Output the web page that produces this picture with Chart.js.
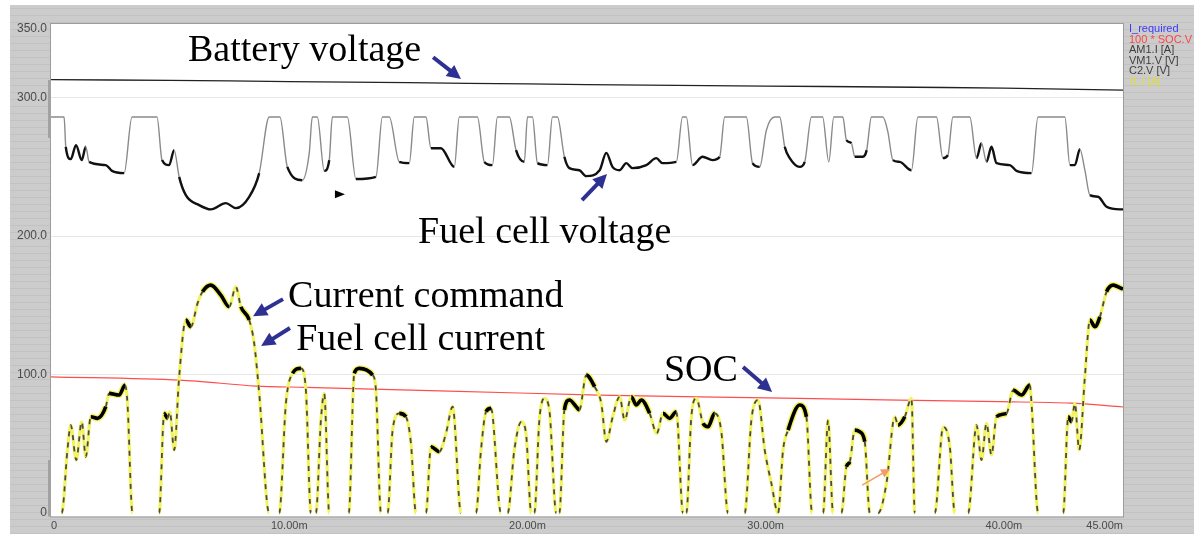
<!DOCTYPE html>
<html>
<head>
<meta charset="utf-8">
<script src="https://cdn.jsdelivr.net/npm/chart.js@4"></script>
<style>
  html, body { margin: 0; padding: 0; background: #fff; }
  #wrap { width: 1194px; height: 534px; }
</style>
</head>
<body>
<div id="wrap"><canvas id="chart" width="1194" height="534"></canvas></div>
<script>
// оси
const timeTicks = [0, 10, 20, 30, 40, 45];
const valueTicks = [0, 100, 200, 300, 350];

// напряжение батареи (C2.V)
const battT = [0, 5, 10, 15, 20, 25, 30, 35, 40, 45];
const battV = [313, 312.5, 311.6, 310.8, 309.9, 309.0, 308.4, 307.7, 306.9, 305.4];

// напряжение топливного элемента (VM1.V)
const fcvT = [0, 0.55, 0.62, 0.83, 1.05, 1.29, 1.46, 1.60, 2.30, 2.56, 3.07, 3.40, 4.45, 4.66, 4.96, 5.17, 5.38, 5.66, 6.22, 6.71,
  7.34, 7.76, 8.32, 8.74, 9.16, 9.61, 9.92, 10.55, 10.84, 10.97, 11.18, 11.47, 11.68, 11.81, 12.44, 12.80, 13.64, 13.91, 14.20, 14.62,
  15.04, 15.25, 15.74, 15.95, 16.37, 16.93, 17.14, 17.90, 18.19, 18.53, 18.74, 19.24, 19.52, 19.87, 20.00, 20.21, 20.42, 20.84, 21.05, 21.26,
  21.55, 21.76, 22.18, 22.47, 23.03, 23.31, 23.57, 23.87, 24.15, 24.41, 24.99, 25.41, 25.67, 26.25, 26.51, 26.67, 26.93, 27.35, 27.77, 28.07,
  28.28, 29.19, 29.45, 29.75, 30.03, 30.38, 30.59, 30.80, 31.01, 31.43, 31.64, 31.92, 32.39, 32.65, 32.86, 33.24, 33.39, 33.60, 33.74, 34.08,
  34.24, 34.44, 34.92, 35.13, 35.34, 35.63, 36.12, 36.39, 37.17, 37.44, 37.65, 37.86, 38.57, 38.85, 39.06, 39.27, 39.48, 39.69, 40.25, 40.53,
  41.16, 41.43, 42.56, 42.77, 42.98, 43.19, 43.40, 43.61, 43.95, 44.31, 44.87, 45];
const fcvV = [286, 286, 264.5, 255.6, 265.7, 254.9, 264.5, 253.6, 251.3, 247.1, 245.5, 286, 286, 254.9, 251.3, 262.1, 242.8, 229.6, 222.4, 219.3,
  223.8, 220.2, 228.4, 245.5, 286, 286, 250.0, 240.4, 259.9, 286, 286, 247.1, 254.9, 286, 286, 241.2, 242.8, 286, 286, 253.6,
  252.7, 286, 286, 263.5, 263.5, 250.0, 286, 286, 253.6, 251.3, 286, 286, 262.1, 253.6, 286, 286, 252.7, 251.3, 286, 286,
  257.3, 249.1, 247.6, 243.3, 247.6, 260.1, 250.0, 247.6, 252.7, 249.1, 251.3, 256.3, 252.7, 253.6, 286, 286, 251.3, 257.3, 254.9, 257.3,
  286, 286, 252.7, 250.0, 276.5, 286, 286, 264.5, 256.3, 250.0, 253.6, 286, 286, 253.6, 286, 286, 269.3, 267.1, 257.3, 257.3,
  262.1, 286, 286, 275.3, 254.9, 253.6, 247.6, 286, 286, 256.3, 258.5, 286, 286, 256.3, 267.1, 253.6, 264.5, 252.7, 251.3, 247.1,
  245.5, 286, 286, 251.3, 251.3, 262.8, 247.6, 229.6, 228.4, 221.2, 219.3, 219.3];

// 100 * SOC
const socT = [0, 5.4, 8.6, 10.7, 16.3, 23.0, 31.4, 39.8, 42.8, 45];
const socV = [98.4, 96.0, 91.7, 90.8, 88.3, 85.2, 82.8, 80.4, 79.4, 76.6];

// ток: команда (I1.I) и ток топливного элемента (AM1.I) почти совпадают
const curT = [0, 0.45, 0.69, 0.83, 1.06, 1.29, 1.46, 1.67, 1.95, 2.30, 2.44, 2.86, 3.11, 3.21, 3.42, 4.54, 4.75, 4.89, 4.99, 5.17,
  5.38, 5.66, 5.87, 6.15, 6.36, 6.71, 7.13, 7.48, 7.76, 7.97, 8.32, 8.53, 8.74, 9.16, 9.58, 9.86, 10.14, 10.49, 10.70, 10.91,
  11.12, 11.33, 11.47, 11.68, 12.50, 12.73, 12.94, 13.50, 13.64, 13.85, 14.13, 14.34, 14.62, 14.90, 15.11, 15.32, 15.74, 15.95, 16.30, 16.58,
  16.86, 17.21, 17.84, 18.05, 18.26, 18.47, 18.89, 19.17, 19.45, 19.74, 19.94, 20.16, 20.29, 20.50, 20.71, 20.92, 21.21, 21.34, 21.55, 21.76,
  22.05, 22.18, 22.47, 22.82, 23.10, 23.31, 23.58, 23.87, 24.08, 24.36, 24.57, 24.78, 25.13, 25.43, 25.69, 25.97, 26.25, 26.53, 26.67, 26.88,
  27.09, 27.37, 27.58, 27.86, 28.14, 28.42, 29.12, 29.40, 29.68, 29.96, 30.24, 30.52, 30.73, 30.94, 31.43, 31.71, 31.95, 32.41, 32.62, 32.83,
  33.18, 33.39, 33.53, 33.74, 33.95, 34.16, 34.37, 34.72, 35.07, 35.42, 35.56, 35.84, 36.12, 36.26, 37.10, 37.45, 37.73, 37.94, 38.50, 38.85,
  39.06, 39.27, 39.48, 39.69, 40.11, 40.39, 40.74, 41.09, 41.16, 41.44, 42.49, 42.70, 42.84, 42.98, 43.16, 43.40, 43.61, 43.82, 44.03, 44.31,
  44.59, 44.94, 45];
const curA = [0, 0, 45.5, 63.5, 38.3, 65.9, 40.6, 69.5, 68.4, 76.8, 86.4, 85.2, 92.4, 79.2, 0, 0, 72.0, 68.4, 73.1, 45.5,
  98.4, 139.4, 134.5, 151.4, 159.8, 164.6, 157.4, 149.0, 163.4, 149.0, 139.4, 122.5, 86.4, 0, 0, 79.2, 100.9, 104.5, 88.8, 0,
  0, 67.1, 86.4, 0, 0, 100.9, 104.5, 99.6, 88.8, 0, 0, 59.9, 72.0, 69.5, 50.3, 0, 0, 47.9, 44.3, 57.5,
  76.8, 0, 0, 45.5, 73.1, 75.6, 0, 0, 45.5, 65.9, 57.5, 0, 0, 67.1, 82.8, 74.4, 0, 0, 74.4, 81.6,
  76.8, 74.4, 99.6, 91.2, 79.2, 51.5, 69.5, 84.0, 67.1, 84.0, 78.0, 81.6, 72.0, 57.5, 72.0, 68.4, 73.1, 0, 0, 69.5,
  82.8, 64.8, 62.3, 72.0, 58.7, 0, 0, 67.1, 81.6, 45.5, 21.4, 0, 45.5, 59.9, 78.0, 69.5, 0, 0, 67.1, 0,
  0, 33.4, 37.0, 59.9, 58.7, 51.5, 0, 0, 21.4, 69.5, 63.5, 69.5, 82.8, 0, 0, 62.3, 47.9, 0, 0, 63.5,
  38.3, 64.8, 41.9, 69.5, 72.0, 88.8, 85.2, 92.4, 79.2, 0, 0, 69.5, 66.0, 79.2, 45.5, 98.4, 139.4, 134.5, 141.7, 159.8,
  164.6, 162.2, 162.0];

// легенда осциллографа
const legendNames = ['I_required', '100 * SOC.V', 'AM1.I [A]', 'VM1.V [V]', 'C2.V [V]', 'I1.I [A]'];
const legendColors = ['#3a3aff', '#ff4444', '#3c3c3c', '#3c3c3c', '#3c3c3c', '#dede3a'];

// подписи и стрелки (в координатах данных)
const notes = [
  { text: 'Battery voltage', t: 5.75, v: 326.4 },
  { text: 'Fuel cell voltage', t: 15.41, v: 194.9 },
  { text: 'Current command', t: 9.95, v: 148.7 },
  { text: 'Fuel cell current', t: 10.29, v: 117.7 },
  { text: 'SOC', t: 25.73, v: 95.3 }
];
const arrows = [
  { t0: 16.04, v0: 329.2, t1: 17.21, v1: 313.4 },
  { t0: 22.29, v0: 226.0, t1: 23.34, v1: 244.8 },
  { t0: 9.74, v0: 154.5, t1: 8.48, v1: 142.2 },
  { t0: 10.03, v0: 133.6, t1: 8.82, v1: 120.6 },
  { t0: 29.05, v0: 105.4, t1: 30.27, v1: 87.4 }
];

const pts = (ts, vs) => ts.map((t, i) => ({ x: t, y: vs[i] }));

function steep(ctx, k) {
  const dx = Math.abs(ctx.p1.x - ctx.p0.x);
  const dy = Math.abs(ctx.p1.y - ctx.p0.y);
  return dy > k * Math.max(dx, 0.5);
}
function atZero(ctx) {
  return ctx.p0.parsed.y === 0 && ctx.p1.parsed.y === 0;
}
// участок касается верхнего насыщения
function touchesTop(ctx) {
  return ctx.p0.parsed.y >= 286 || ctx.p1.parsed.y >= 286;
}

function drawArrow(ctx, x0, y0, x1, y1, color, width, head) {
  const a = Math.atan2(y1 - y0, x1 - x0);
  ctx.save();
  ctx.strokeStyle = color;
  ctx.fillStyle = color;
  ctx.lineWidth = width;
  ctx.beginPath();
  ctx.moveTo(x0, y0);
  ctx.lineTo(x1 - Math.cos(a) * head * 0.8, y1 - Math.sin(a) * head * 0.8);
  ctx.stroke();
  ctx.beginPath();
  ctx.moveTo(x1, y1);
  ctx.lineTo(x1 - head * Math.cos(a) + head * 0.5 * Math.sin(a), y1 - head * Math.sin(a) - head * 0.5 * Math.cos(a));
  ctx.lineTo(x1 - head * Math.cos(a) - head * 0.5 * Math.sin(a), y1 - head * Math.sin(a) + head * 0.5 * Math.cos(a));
  ctx.closePath();
  ctx.fill();
  ctx.restore();
}

const scopeBackground = {
  id: 'scopeBackground',
  beforeDraw(chart) {
    const { ctx, chartArea: a, width, height } = chart;
    ctx.save();
    ctx.fillStyle = '#fff';
    ctx.fillRect(0, 0, width, height);
    ctx.fillStyle = '#cccccc';
    ctx.fillRect(10, 5, width - 10, height - 5);
    ctx.strokeStyle = '#c2c2c2';
    ctx.lineWidth = 1;
    for (let y = 8.5; y < height; y += 7) {
      ctx.beginPath();
      ctx.moveTo(10, y);
      ctx.lineTo(width, y);
      ctx.stroke();
    }
    ctx.fillStyle = '#fff';
    ctx.fillRect(a.left, a.top, a.right - a.left, a.bottom - a.top);
    ctx.strokeStyle = '#9c9c9c';
    ctx.strokeRect(a.left - 0.5, a.top - 0.5, a.right - a.left + 1, a.bottom - a.top + 1);
    ctx.fillStyle = '#a2a2a2';
    ctx.fillRect(a.left - 3, 80, 3, 58);
    ctx.fillRect(a.left - 3, 460, 3, a.bottom - 460);
    ctx.restore();
  },
  afterDatasetsDraw(chart) {
    const { ctx } = chart;
    const x = chart.scales.x, y = chart.scales.y;
    ctx.save();
    ctx.fillStyle = '#000';
    ctx.font = "38px 'Liberation Serif', 'Times New Roman', serif";
    ctx.textBaseline = 'alphabetic';
    notes.forEach(n => ctx.fillText(n.text, x.getPixelForValue(n.t), y.getPixelForValue(n.v)));
    arrows.forEach(r => drawArrow(ctx, x.getPixelForValue(r.t0), y.getPixelForValue(r.v0),
      x.getPixelForValue(r.t1), y.getPixelForValue(r.v1), '#2e3192', 4, 14));
    // маленький маркер и оранжевая стрелка
    const mx = x.getPixelForValue(12.13), my = y.getPixelForValue(230.3);
    ctx.beginPath();
    ctx.moveTo(mx - 5, my - 4);
    ctx.lineTo(mx + 5, my);
    ctx.lineTo(mx - 5, my + 4);
    ctx.closePath();
    ctx.fill();
    drawArrow(ctx, x.getPixelForValue(34.05), y.getPixelForValue(20.2),
      x.getPixelForValue(35.22), y.getPixelForValue(31.8), '#f59a6a', 1.6, 9);
    // легенда справа
    ctx.font = "11px 'Liberation Sans', Arial, sans-serif";
    ctx.textBaseline = 'middle';
    legendNames.forEach((name, i) => {
      ctx.fillStyle = legendColors[i];
      ctx.fillText(name, chart.chartArea.right + 6, 29 + i * 10.5);
    });
    ctx.restore();
  }
};

new Chart(document.getElementById('chart'), {
  type: 'line',
  data: {
    datasets: [
      {
        label: 'AM1.I [A]',
        data: pts(curT, curA),
        order: 0,
        borderColor: '#000',
        borderWidth: 3,
        cubicInterpolationMode: 'monotone',
        segment: {
          borderColor: ctx => atZero(ctx) ? 'rgba(0,0,0,0)' : (steep(ctx, 2.2) ? '#4a4a4a' : '#000'),
          borderWidth: ctx => steep(ctx, 2.2) ? 1.8 : 3.6,
          borderDash: ctx => steep(ctx, 2.2) ? [5, 6] : []
        }
      },
      {
        label: 'I1.I [A]',
        data: pts(curT, curA),
        order: 1,
        borderColor: '#f3f362',
        borderWidth: 6,
        cubicInterpolationMode: 'monotone',
        segment: {
          borderColor: ctx => atZero(ctx) ? 'rgba(0,0,0,0)' : '#f3f362',
          borderWidth: ctx => steep(ctx, 2.2) ? 3.2 : 6.4
        }
      },
      {
        label: '100 * SOC.V',
        data: pts(socT, socV),
        order: 2,
        borderColor: '#ff4d4d',
        borderWidth: 1.2,
        tension: 0.3
      },
      {
        label: 'VM1.V [V]',
        data: pts(fcvT, fcvV),
        order: 3,
        borderColor: '#000',
        borderWidth: 2.2,
        cubicInterpolationMode: 'monotone',
        segment: {
          borderColor: ctx => (touchesTop(ctx) || steep(ctx, 3.5)) ? '#8a8a8a' : '#111',
          borderWidth: ctx => (touchesTop(ctx) || steep(ctx, 3.5)) ? 1.4 : 2.4
        }
      },
      {
        label: 'C2.V [V]',
        data: pts(battT, battV),
        order: 4,
        borderColor: '#222',
        borderWidth: 1.3,
        tension: 0.3
      }
    ]
  },
  options: {
    responsive: false,
    animation: false,
    devicePixelRatio: 1,
    elements: { point: { radius: 0 } },
    layout: { padding: { top: 24, right: 71, left: 0, bottom: 0 } },
    plugins: {
      legend: { display: false },
      tooltip: { enabled: false }
    },
    scales: {
      x: {
        type: 'linear',
        min: 0,
        max: 45,
        afterBuildTicks: s => { s.ticks = timeTicks.map(v => ({ value: v })); },
        afterFit: s => { s.height = 17.5; },
        grid: { display: false, drawTicks: false },
        border: { display: false },
        ticks: {
          align: 'inner',
          autoSkip: false,
          maxRotation: 0,
          padding: 3,
          color: '#4a4a4a',
          font: { family: "'Liberation Sans', Arial, sans-serif", size: 11 },
          callback: v => v === 0 ? '0' : v.toFixed(2) + 'm'
        }
      },
      y: {
        min: -2.5,
        max: 353.2,
        afterBuildTicks: s => { s.ticks = valueTicks.map(v => ({ value: v })); },
        afterFit: s => { s.width = 51; },
        grid: {
          drawTicks: false,
          color: ctx => (ctx.tick && (ctx.tick.value === 0 || ctx.tick.value === 350)) ? 'rgba(0,0,0,0)' : '#e6e6e6'
        },
        border: { display: false },
        ticks: {
          padding: 4,
          color: '#4a4a4a',
          font: { family: "'Liberation Sans', Arial, sans-serif", size: 12 },
          callback: v => v === 0 ? '0' : v.toFixed(1)
        }
      }
    }
  },
  plugins: [scopeBackground]
});
</script>
</body>
</html>
